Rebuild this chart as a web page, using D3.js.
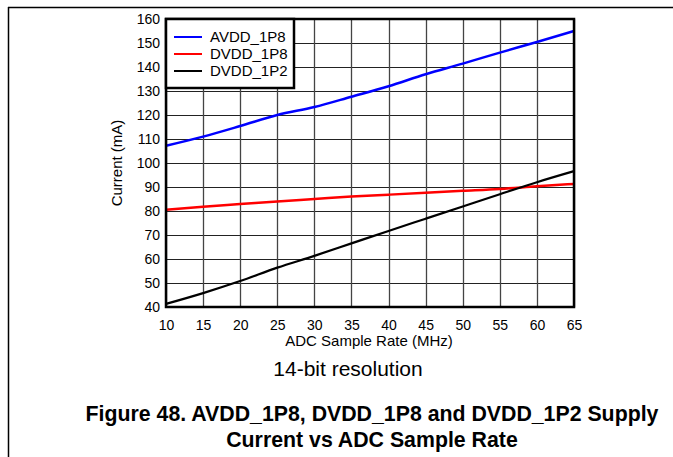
<!DOCTYPE html>
<html><head><meta charset="utf-8">
<script src="https://cdn.jsdelivr.net/npm/d3@7"></script>
<style>html,body{margin:0;padding:0;background:#fff;}svg{display:block;}</style>
</head><body>
<svg id="chart" width="673" height="457"></svg>
<script>
const rates = [10,15,20,25,30,35,40,45,50,55,60,65];
const avdd1p8 = [107.2,111,115.4,120,123.3,127.6,132,137,141.4,146,150.4,155];
const dvdd1p8 = [80.5,81.8,82.9,84,85,86,86.8,87.6,88.4,89.2,90.3,91.3];
const dvdd1p2 = [41.3,45.8,50.8,56.4,61.3,66.5,71.7,76.8,81.9,87,92,96.6];
const seriesNames = ["AVDD_1P8","DVDD_1P8","DVDD_1P2"];
const seriesColors = ["#0000ff","#ff0000","#000000"];
const xTicks = [10,15,20,25,30,35,40,45,50,55,60,65];
const yTicks = [40,50,60,70,80,90,100,110,120,130,140,150,160];
const xTitle = "ADC Sample Rate (MHz)";
const yTitle = "Current (mA)";
const subTitle = "14-bit resolution";
const caption = ["Figure 48. AVDD_1P8, DVDD_1P8 and DVDD_1P2 Supply","Current vs ADC Sample Rate"];

const svg = d3.select("#chart");
const font = "'Liberation Sans', Arial, sans-serif";
const L = 166, R = 574, T = 19, B = 307;
const x = d3.scaleLinear().domain([10,65]).range([L,R]);
const y = d3.scaleLinear().domain([40,160]).range([B,T]);

// page frame
svg.append("line").attr("x1",8).attr("x2",673).attr("y1",7.5).attr("y2",7.5).attr("stroke","#000").attr("stroke-width",1.5);
svg.append("line").attr("x1",8.5).attr("x2",8.5).attr("y1",7).attr("y2",457).attr("stroke","#000").attr("stroke-width",1.5);

// grid
svg.append("g").selectAll("line").data(yTicks).join("line")
  .attr("x1",L).attr("x2",R).attr("y1",d=>Math.round(y(d))+0.5).attr("y2",d=>Math.round(y(d))+0.5)
  .attr("stroke","#222").attr("stroke-width",1.2);
svg.append("g").selectAll("line").data(xTicks).join("line")
  .attr("y1",T).attr("y2",B).attr("x1",d=>Math.round(x(d))+0.5).attr("x2",d=>Math.round(x(d))+0.5)
  .attr("stroke","#444").attr("stroke-width",1.3);

// axes labels via d3 axes
const yAxis = svg.append("g").attr("transform",`translate(${L-4},0)`)
  .call(d3.axisLeft(y).tickValues(yTicks).tickSize(0).tickPadding(2));
const xAxis = svg.append("g").attr("transform",`translate(0,${B+4})`)
  .call(d3.axisBottom(x).tickValues(xTicks).tickSize(0).tickPadding(9));
[yAxis,xAxis].forEach(a=>{
  a.select(".domain").remove();
  a.selectAll("text").attr("font-family",font).attr("font-size",14).attr("fill","#000");
});

// lines
const allSeries = [avdd1p8, dvdd1p8, dvdd1p2];
const line = d3.line().x((d,i)=>x(rates[i])).y(d=>y(d)).curve(d3.curveMonotoneX);
allSeries.forEach((s,k)=>{
  svg.append("path").datum(s).attr("d",line).attr("fill","none")
    .attr("stroke",seriesColors[k]).attr("stroke-width",k===2?2.2:2.5);
});

// plot border
svg.append("rect").attr("x",L).attr("y",T).attr("width",R-L).attr("height",B-T)
  .attr("fill","none").attr("stroke","#000").attr("stroke-width",2.5);

// legend
const lg = svg.append("g");
lg.append("rect").attr("x",L).attr("y",T).attr("width",294-L).attr("height",88-T)
  .attr("fill","#fff").attr("stroke","#000").attr("stroke-width",2.5);
seriesNames.forEach((n,k)=>{
  const yy = 37 + k*17;
  lg.append("line").attr("x1",174).attr("x2",202).attr("y1",yy).attr("y2",yy)
    .attr("stroke",seriesColors[k]).attr("stroke-width",2);
  lg.append("text").attr("x",210).attr("y",yy).attr("dy","0.36em")
    .attr("font-family",font).attr("font-size",15).text(n);
});

// titles
svg.append("text").attr("x",369).attr("y",346).attr("text-anchor","middle")
  .attr("font-family",font).attr("font-size",15).text(xTitle);
svg.append("text").attr("transform","translate(122,163) rotate(-90)").attr("text-anchor","middle")
  .attr("font-family",font).attr("font-size",15).text(yTitle);
svg.append("text").attr("x",348).attr("y",376).attr("text-anchor","middle")
  .attr("font-family",font).attr("font-size",21).text(subTitle);
caption.forEach((c,i)=>{
  svg.append("text").attr("x",372).attr("y",421+i*26).attr("text-anchor","middle")
    .attr("font-family",font).attr("font-size",21.3).attr("font-weight","bold").text(c);
});
</script>
</body></html>
